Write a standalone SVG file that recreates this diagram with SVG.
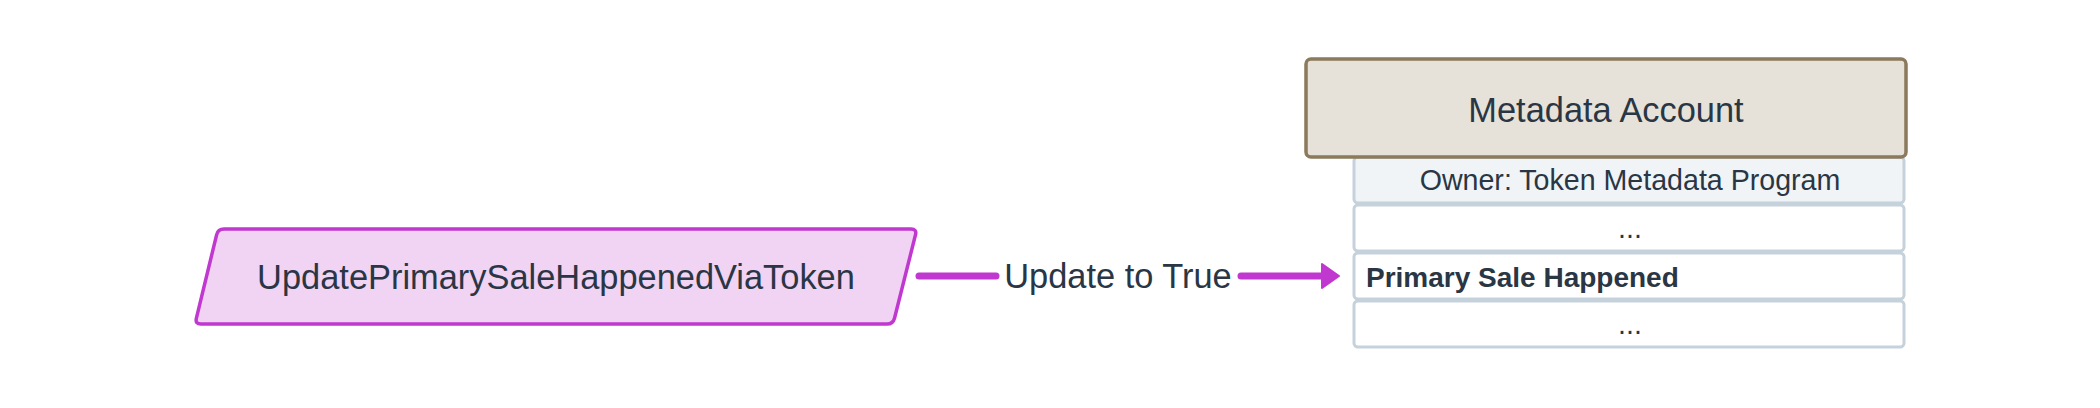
<svg xmlns="http://www.w3.org/2000/svg" width="2100" height="408" viewBox="0 0 2100 408">
<style>
text{font-family:"Liberation Sans",Arial,sans-serif;fill:#2a3644}
.lbl{font-size:34.4px}
.fld{font-size:28.6px}
.row{fill:#ffffff;stroke:#c5d1db;stroke-width:3}
.edge{stroke:#c038cf;stroke-width:7;stroke-linecap:round;fill:none}
</style>
<rect width="2100" height="408" fill="#ffffff"/>
<g id="instruction">
<path d="M224,229 L911,229 Q917,229 915.5,234.8 L894.5,318.2 Q893,324 887,324 L201,324 Q195,324 196.4,318.2 L216.6,234.8 Q218,229 224,229 Z" fill="#f1d3f3" stroke="#c038cf" stroke-width="3.5" stroke-linejoin="round"/>
<text class="lbl" x="556" y="289" text-anchor="middle">UpdatePrimarySaleHappenedViaToken</text>
</g>
<g id="metadata-account">
<rect class="row" x="1354" y="157" width="550" height="46" rx="4" style="fill:#f0f4f7"/>
<text class="fld" x="1630" y="190" text-anchor="middle">Owner: Token Metadata Program</text>
<rect class="row" x="1354" y="205" width="550" height="46" rx="4"/>
<text class="fld" x="1630" y="238" text-anchor="middle">...</text>
<rect class="row" x="1354" y="253" width="550" height="46" rx="4"/>
<text class="fld" x="1366" y="287" font-weight="bold" style="font-size:28px">Primary Sale Happened</text>
<rect class="row" x="1354" y="301" width="550" height="46" rx="4"/>
<text class="fld" x="1630" y="334" text-anchor="middle">...</text>
<rect x="1306" y="59" width="600" height="98" rx="5" fill="#e6e2da" stroke="#8b7a5b" stroke-width="3.5"/>
<text class="lbl" x="1606" y="122" text-anchor="middle">Metadata Account</text>
</g>
<g id="connectors">
<line class="edge" x1="919" y1="276" x2="996" y2="276"/>
<line class="edge" x1="1241" y1="276" x2="1322" y2="276"/>
<polygon points="1322,264 1339,276 1322,288" fill="#c038cf" stroke="#c038cf" stroke-width="2" stroke-linejoin="round"/>
<text class="lbl" x="1118" y="288" text-anchor="middle">Update to True</text>
</g>
</svg>
